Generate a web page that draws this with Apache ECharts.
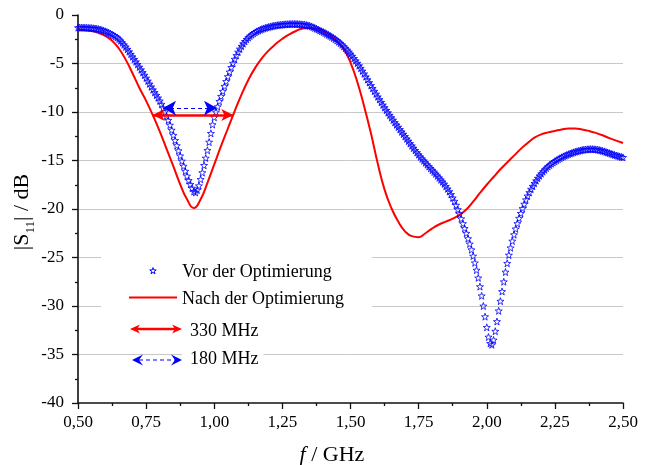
<!DOCTYPE html>
<html><head><meta charset="utf-8">
<script src="https://cdn.jsdelivr.net/npm/echarts@6/dist/echarts.min.js"></script>
<style>html,body{margin:0;padding:0;background:#fff}#c{width:652px;height:465px}</style>
</head><body><div id="c"></div>
<script>
// ---- data ----
const freqStartGHz = 0.5;
// "Vor der Optimierung" (stars), sampled every 6.25 MHz from 0.50 GHz
const vorStepGHz = 0.00625;
const vorDb = [
 -1.30,-1.30,-1.30,-1.31,-1.31,-1.32,-1.33,-1.34,-1.35,-1.37,-1.39,-1.42,-1.45,-1.50,-1.55,-1.61,
 -1.68,-1.75,-1.83,-1.92,-2.01,-2.11,-2.21,-2.33,-2.48,-2.66,-2.86,-3.07,-3.29,-3.53,-3.78,-4.04,
 -4.30,-4.56,-4.82,-5.09,-5.36,-5.64,-5.92,-6.20,-6.50,-6.80,-7.10,-7.40,-7.70,-7.98,-8.26,-8.54,
 -8.85,-9.20,-9.58,-9.98,-10.40,-10.85,-11.35,-11.87,-12.40,-12.93,-13.46,-13.99,-14.52,-15.05,-15.58,-16.10,
 -16.60,-17.05,-17.45,-17.85,-18.20,-18.30,-18.05,-17.60,-16.95,-16.25,-15.50,-14.75,-13.95,-13.10,-12.20,-11.30,
 -10.55,-10.00,-9.45,-8.90,-8.38,-7.86,-7.35,-6.85,-6.35,-5.87,-5.40,-4.96,-4.55,-4.17,-3.82,-3.50,
 -3.21,-2.95,-2.72,-2.51,-2.33,-2.17,-2.03,-1.90,-1.79,-1.69,-1.60,-1.52,-1.45,-1.39,-1.33,-1.28,
 -1.23,-1.19,-1.15,-1.11,-1.08,-1.05,-1.03,-1.01,-0.99,-0.97,-0.96,-0.95,-0.94,-0.93,-0.93,-0.93,
 -0.93,-0.94,-0.95,-0.96,-0.98,-1.00,-1.03,-1.07,-1.12,-1.18,-1.25,-1.33,-1.41,-1.50,-1.59,-1.67,
 -1.75,-1.85,-1.95,-2.05,-2.15,-2.26,-2.37,-2.49,-2.62,-2.76,-2.91,-3.07,-3.24,-3.42,-3.61,-3.81,
 -4.02,-4.24,-4.47,-4.71,-4.96,-5.22,-5.49,-5.77,-6.06,-6.36,-6.66,-6.96,-7.26,-7.56,-7.85,-8.14,
 -8.43,-8.71,-8.99,-9.27,-9.54,-9.81,-10.07,-10.33,-10.58,-10.83,-11.08,-11.32,-11.56,-11.80,-12.04,-12.28,
 -12.52,-12.76,-13.00,-13.24,-13.48,-13.72,-13.95,-14.18,-14.40,-14.62,-14.83,-15.03,-15.23,-15.43,-15.62,-15.81,
 -16.00,-16.19,-16.38,-16.58,-16.78,-16.99,-17.20,-17.42,-17.66,-17.92,-18.20,-18.50,-18.85,-19.20,-19.60,-20.05,
 -20.50,-21.00,-21.50,-22.00,-22.50,-23.05,-23.60,-24.20,-24.85,-25.55,-26.30,-27.10,-28.00,-28.95,-30.00,-31.10,
 -32.20,-33.20,-33.85,-34.00,-33.50,-32.60,-31.60,-30.50,-29.50,-28.50,-27.50,-26.50,-25.60,-24.75,-24.00,-23.30,
 -22.65,-22.05,-21.50,-20.95,-20.45,-19.95,-19.50,-19.05,-18.65,-18.30,-17.95,-17.65,-17.35,-17.08,-16.82,-16.58,
 -16.36,-16.15,-15.96,-15.78,-15.62,-15.47,-15.33,-15.20,-15.08,-14.97,-14.86,-14.76,-14.67,-14.58,-14.50,-14.42,
 -14.35,-14.28,-14.22,-14.16,-14.10,-14.05,-14.00,-13.96,-13.92,-13.89,-13.87,-13.85,-13.84,-13.83,-13.83,-13.84,
 -13.86,-13.88,-13.92,-13.96,-14.01,-14.06,-14.12,-14.18,-14.24,-14.30,-14.36,-14.42,-14.48,-14.53,-14.58,-14.63,
 -14.68
];
// "Nach der Optimierung" (red line), sampled every 25 MHz from 0.50 GHz
const nachStepGHz = 0.025;
const nachDb = [
 -1.50,-1.55,-1.65,-1.85,-2.15,-2.65,-3.45,-4.60,-6.00,-7.50,-8.85,-10.35,-12.00,-13.80,-15.60,-17.45,
 -19.00,-19.90,-19.00,-17.30,-15.40,-13.50,-11.70,-9.90,-8.20,-6.70,-5.45,-4.45,-3.65,-3.00,-2.45,-2.00,
 -1.65,-1.40,-1.35,-1.40,-1.70,-2.10,-2.65,-3.50,-4.90,-6.90,-9.40,-12.20,-15.30,-18.00,-19.90,-21.30,
 -22.30,-22.80,-22.90,-22.50,-22.00,-21.60,-21.30,-21.00,-20.60,-20.05,-19.25,-18.35,-17.50,-16.70,-15.90,-15.20,
 -14.50,-13.80,-13.20,-12.65,-12.30,-12.10,-11.95,-11.80,-11.70,-11.70,-11.80,-11.95,-12.15,-12.40,-12.70,-12.95,
 -13.20
];
// -10 dB bandwidth markers: [from GHz, to GHz, level dB]
const bandNach = [0.774, 1.070, -10.3];
const bandVor = [0.812, 1.010, -9.6];
const seriesNames = ['Vor der Optimierung', 'Nach der Optimierung'];
const bandLabels = ['330 MHz', '180 MHz'];
const xTitle = ['f', ' / GHz'];
const yTitle = ['|S', '11', '| / dB'];

// ---- build ----
const FONT = 'Liberation Serif';
const BLUE = '#0000ff', RED = '#ff0000';
const vorData = vorDb.map((v, i) => [freqStartGHz + i * vorStepGHz, v]);
const nachData = nachDb.map((v, i) => [freqStartGHz + i * nachStepGHz, v]);
const STAR_PTS = [[0,-10],[2.35,-3.24],[9.51,-3.09],[3.8,1.24],[5.88,8.09],[0,4],[-5.88,8.09],[-3.8,1.24],[-9.51,-3.09],[-2.35,-3.24]];
const STAR = 'path://M' + STAR_PTS.map(p => p[0] + ',' + p[1]).join(' L') + ' Z';

function arrowHead(tipX, y, s, len, half, notch, color) {
  return { type: 'polygon', z: 102, silent: true,
    shape: { points: [[tipX, y], [tipX + s * len, y - half], [tipX + s * notch, y], [tipX + s * len, y + half]] },
    style: { fill: color } };
}
function legendStar(cx, cy, r) {
  return { type: 'polygon', z: 101, silent: true,
    shape: { points: STAR_PTS.map(p => [cx + p[0] * r / 10, cy + p[1] * r / 10]) },
    style: { fill: 'none', stroke: BLUE, lineWidth: 1 } };
}

const chart = echarts.init(document.getElementById('c'), null, { renderer: 'canvas' });
chart.setOption({
  animation: false,
  backgroundColor: '#fff',
  grid: { left: 78, top: 15, width: 545, height: 388 },
  xAxis: {
    type: 'value', min: 0.5, max: 2.5, interval: 0.25,
    axisLine: { onZero: false, lineStyle: { color: '#111', width: 1.6 } },
    axisTick: { show: true, inside: false, length: 6, lineStyle: { color: '#111', width: 1.3 } },
    minorTick: { show: true, splitNumber: 2, length: 3, lineStyle: { color: '#111', width: 1.3 } },
    splitLine: { show: false },
    axisLabel: { margin: 11, color: '#000', fontFamily: FONT, fontSize: 17,
      formatter: v => v.toFixed(2).replace('.', ',') }
  },
  yAxis: {
    type: 'value', min: -40, max: 0, interval: 5,
    axisLine: { onZero: false, lineStyle: { color: '#111', width: 1.6 } },
    axisTick: { show: true, inside: false, length: 6, lineStyle: { color: '#111', width: 1.3 } },
    minorTick: { show: true, splitNumber: 2, length: 3, lineStyle: { color: '#111', width: 1.3 } },
    splitLine: { show: true, showMinLine: false, showMaxLine: false, lineStyle: { color: '#c8c8c8', width: 1 } },
    axisLabel: { margin: 14, color: '#000', fontFamily: FONT, fontSize: 17 }
  },
  series: [
    { name: seriesNames[1], type: 'line', data: nachData, smooth: 0.5, showSymbol: false,
      lineStyle: { color: RED, width: 2 }, z: 3, silent: true,
      markLine: { silent: true, symbol: ['arrow', 'arrow'], symbolSize: [9, 12], label: { show: false },
        lineStyle: { color: RED, width: 2.5, type: 'solid' },
        data: [[{ coord: [bandNach[0], bandNach[2]] }, { coord: [bandNach[1], bandNach[2]] }]] } },
    { name: seriesNames[0], type: 'scatter', data: vorData, symbol: STAR, symbolSize: 7,
      itemStyle: { color: 'rgba(0,0,0,0)', borderColor: BLUE, borderWidth: 1 }, z: 4, silent: true,
      markLine: { silent: true, symbol: ['arrow', 'arrow'], symbolSize: [11, 13], label: { show: false },
        lineStyle: { color: BLUE, width: 1.2, type: [4, 3] },
        data: [[{ coord: [bandVor[0], bandVor[2]] }, { coord: [bandVor[1], bandVor[2]] }]] } }
  ],
  graphic: [
    { type: 'rect', z: 100, silent: true, shape: { x: 101, y: 246, width: 271, height: 70 }, style: { fill: '#fff' } },
    legendStar(153, 271, 3.4),
    { type: 'text', z: 101, silent: true, x: 182, y: 272,
      style: { text: seriesNames[0], fontFamily: FONT, fontSize: 18, fill: '#000', verticalAlign: 'middle' } },
    { type: 'line', z: 101, silent: true, shape: { x1: 129, y1: 297.5, x2: 177, y2: 297.5 }, style: { stroke: RED, lineWidth: 2 } },
    { type: 'text', z: 101, silent: true, x: 182, y: 299,
      style: { text: seriesNames[1], fontFamily: FONT, fontSize: 18, fill: '#000', verticalAlign: 'middle' } },
    { type: 'line', z: 101, silent: true, shape: { x1: 136, y1: 329, x2: 176, y2: 329 }, style: { stroke: RED, lineWidth: 2.5 } },
    arrowHead(130, 329, 1, 10, 4.5, 7, RED),
    arrowHead(182, 329, -1, 10, 4.5, 7, RED),
    { type: 'text', z: 101, silent: true, x: 190, y: 331,
      style: { text: bandLabels[0], fontFamily: FONT, fontSize: 18, fill: '#000', verticalAlign: 'middle' } },
    { type: 'line', z: 101, silent: true, shape: { x1: 139, y1: 360, x2: 175, y2: 360 }, style: { stroke: BLUE, lineWidth: 1.2, lineDash: [4, 3] } },
    arrowHead(132, 360, 1, 11, 5.5, 7, BLUE),
    arrowHead(182, 360, -1, 11, 5.5, 7, BLUE),
    { type: 'text', z: 101, silent: true, x: 182, y: 359,
      style: { text: bandLabels[1], fontFamily: FONT, fontSize: 18, fill: '#000', verticalAlign: 'middle',
        backgroundColor: '#fff', padding: [3, 5, 3, 8] } },
    { type: 'text', z: 101, silent: true, x: 332, y: 455,
      style: { text: '{i|' + xTitle[0] + '}{n|' + xTitle[1] + '}', align: 'center', verticalAlign: 'middle',
        rich: { i: { fontFamily: FONT, fontSize: 22, fontStyle: 'italic', fill: '#000' },
                n: { fontFamily: FONT, fontSize: 22, fill: '#000' } } } },
    { type: 'text', z: 101, silent: true, x: 22, y: 212, rotation: Math.PI / 2,
      style: { text: '{n|' + yTitle[0] + '}{s|' + yTitle[1] + '}{n|' + yTitle[2] + '}', align: 'center', verticalAlign: 'middle',
        rich: { n: { fontFamily: FONT, fontSize: 22, fill: '#000', lineHeight: 30, verticalAlign: 'middle' },
                s: { fontFamily: FONT, fontSize: 13, fill: '#000', verticalAlign: 'bottom' } } } }
  ]
});
</script></body></html>
